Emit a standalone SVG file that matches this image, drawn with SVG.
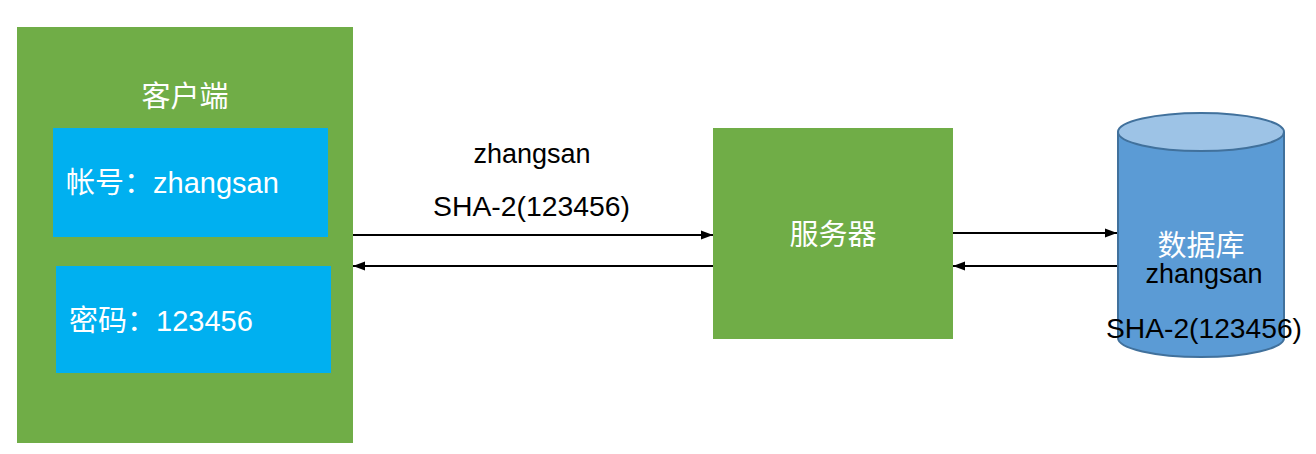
<svg xmlns="http://www.w3.org/2000/svg" width="1316" height="454" viewBox="0 0 1316 454">
<defs>
<style>
.g{fill:#70AD47}
.b{fill:#00B0F0}
.w{fill:#fff;font-family:"Liberation Sans","Noto Sans CJK SC",sans-serif}
.k{fill:#000;font-family:"Liberation Sans","Noto Sans CJK SC",sans-serif}
.ln{stroke:#000;stroke-width:2;fill:none}
</style>
<marker id="ah" viewBox="0 0 12 10" refX="12" refY="5" markerWidth="12" markerHeight="10" markerUnits="userSpaceOnUse" orient="auto">
<path d="M0,0.5 L12,5 L0,9.5 z" fill="#000"/>
</marker>
</defs>
<rect width="1316" height="454" fill="#fff"/>
<g id="client">
<rect class="g" x="17" y="27" width="336" height="416"/>
<text class="w" x="185" y="107" font-size="29" text-anchor="middle">客户端</text>
</g>
<g id="account">
<rect class="b" x="53" y="128" width="275" height="109"/>
<text class="w" x="66" y="193" font-size="29">帐号：zhangsan</text>
</g>
<g id="password">
<rect class="b" x="56" y="266" width="275" height="107"/>
<text class="w" x="69" y="331" font-size="29">密码：123456</text>
</g>
<g id="server">
<rect class="g" x="713" y="128" width="240" height="211"/>
<text class="w" x="833" y="245" font-size="29" text-anchor="middle">服务器</text>
</g>
<g id="database">
<path d="M1118,132 L1118,338 A83,19 0 0 0 1284,338 L1284,132" fill="#5B9BD5" stroke="#41719C" stroke-width="2"/>
<ellipse cx="1201" cy="132" rx="83" ry="19" fill="#9DC3E6" stroke="#41719C" stroke-width="2"/>
<text class="w" x="1201" y="256" font-size="29" text-anchor="middle">数据库</text>
<text class="k" x="1204" y="283" font-size="27" text-anchor="middle">zhangsan</text>
<text class="k" x="1204" y="338" font-size="27" text-anchor="middle" textLength="196" lengthAdjust="spacingAndGlyphs">SHA-2(123456)</text>
</g>
<g id="labels">
<text class="k" x="532" y="163" font-size="27" text-anchor="middle">zhangsan</text>
<text class="k" x="531.5" y="216" font-size="27" text-anchor="middle" textLength="197" lengthAdjust="spacingAndGlyphs">SHA-2(123456)</text>
</g>
<g id="connectors">
<line class="ln" x1="353" y1="235" x2="713" y2="235" marker-end="url(#ah)"/>
<line class="ln" x1="713" y1="266" x2="353" y2="266" marker-end="url(#ah)"/>
<line class="ln" x1="953" y1="233" x2="1117" y2="233" marker-end="url(#ah)"/>
<line class="ln" x1="1117" y1="266" x2="953" y2="266" marker-end="url(#ah)"/>
</g>
</svg>
